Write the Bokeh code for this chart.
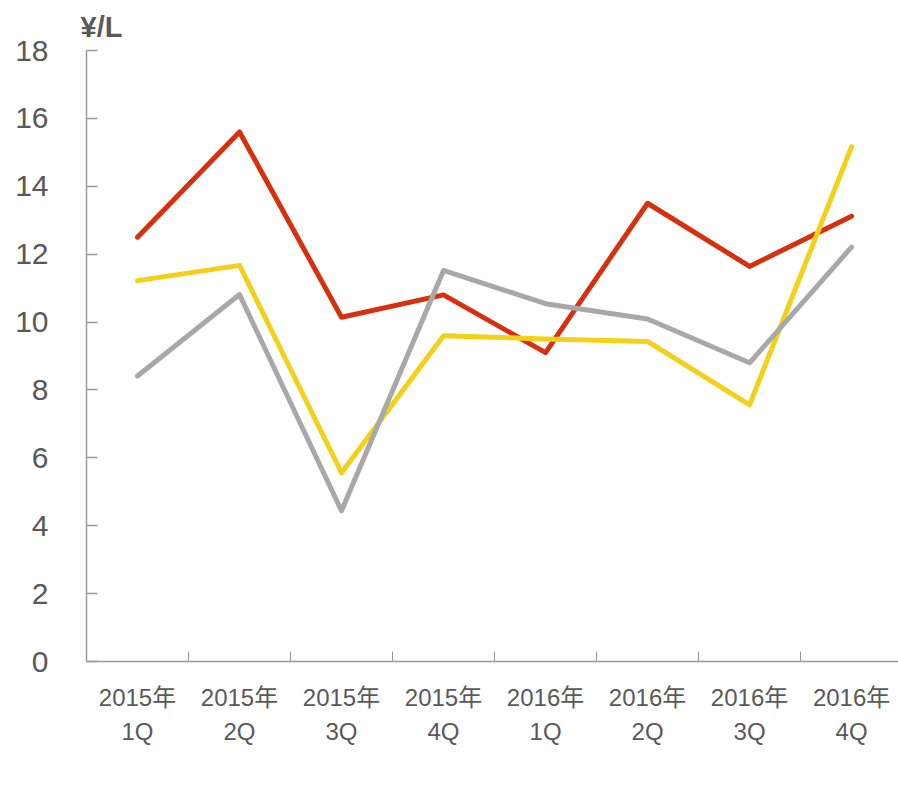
import numpy as np
from bokeh.plotting import figure
from bokeh.models import (Range1d, FixedTicker, Legend, LegendItem, Title, LinearAxis)
from bokeh.embed import file_html
from bokeh.resources import INLINE

# ---- data ----
years = ["2015年", "2015年", "2015年", "2015年", "2016年", "2016年", "2016年", "2016年"]
quarters = ["1Q", "2Q", "3Q", "4Q", "1Q", "2Q", "3Q", "4Q"]
gasoline = [12.5, 15.6, 10.14, 10.8, 9.1, 13.5, 11.64, 13.12]
kerosene = [11.22, 11.67, 5.56, 9.6, 9.5, 9.43, 7.56, 15.17]
diesel = [8.41, 10.81, 4.44, 11.52, 10.54, 10.09, 8.8, 12.21]
series_names = ["ガソリン", "灯油", "軽油"]
y_ticks = [0, 2, 4, 6, 8, 10, 12, 14, 16, 18]
unit_label = "¥/L"

colors = ["#D7300F", "#F5D018", "#A8A8A8"]
text_color = "#595959"
axis_color = "#9A9A9A"
FONT = "Liberation Sans, Noto Sans CJK JP"

n = len(quarters)
x_centers = list(np.arange(n) + 0.5)
x_bounds = list(np.arange(1, n))

p = figure(frame_width=812, frame_height=611, output_backend="svg",
           toolbar_location=None, x_range=Range1d(0, 7.96), y_range=Range1d(0, 18),
           min_border_left=86, min_border_top=50, min_border_right=0, min_border_bottom=0,
           x_axis_type=None, y_axis_type=None)
p.outline_line_color = None
p.xgrid.visible = False
p.ygrid.visible = False
p.background_fill_color = "white"
p.border_fill_color = "white"

# unit title
p.add_layout(Title(text=unit_label, align="left", offset=-6, standoff=15,
                   text_font=FONT, text_font_size="29px", text_font_style="bold",
                   text_color=text_color), "above")

# y axis
yax = LinearAxis(ticker=FixedTicker(ticks=y_ticks), axis_label=None)
yax.axis_line_color = axis_color
yax.axis_line_width = 1.5
yax.major_tick_line_color = axis_color
yax.major_tick_line_width = 1.5
yax.major_tick_in = 11
yax.major_tick_out = 0
yax.minor_tick_line_color = None
yax.major_label_standoff = 38
yax.major_label_text_font = FONT
yax.major_label_text_font_size = "30px"
yax.major_label_text_color = text_color
p.add_layout(yax, "left")

# x axis: line, boundary ticks and year labels
xax = LinearAxis(ticker=FixedTicker(ticks=x_centers, minor_ticks=x_bounds), axis_label=None)
xax.axis_line_color = axis_color
xax.axis_line_width = 1.5
xax.major_tick_line_color = None
xax.major_tick_in = 0
xax.major_tick_out = 0
xax.minor_tick_line_color = axis_color
xax.minor_tick_line_width = 1
xax.minor_tick_in = 10
xax.minor_tick_out = 0
xax.major_label_overrides = {float(xc): yr for xc, yr in zip(x_centers, years)}
xax.major_label_standoff = 22
xax.major_label_text_font = FONT
xax.major_label_text_font_size = "24px"
xax.major_label_text_color = text_color
p.add_layout(xax, "below")

# second row of x labels: quarters
qax = LinearAxis(ticker=FixedTicker(ticks=x_centers), axis_label=None)
qax.axis_line_color = None
qax.major_tick_line_color = None
qax.minor_tick_line_color = None
qax.major_tick_in = 0
qax.major_tick_out = 0
qax.major_label_overrides = {float(xc): q for xc, q in zip(x_centers, quarters)}
qax.major_label_standoff = 4
qax.major_label_text_font = "Liberation Sans"
qax.major_label_text_font_size = "24px"
qax.major_label_text_color = text_color
p.add_layout(qax, "below")

renderers = []
for vals, c in zip([gasoline, kerosene, diesel], colors):
    r = p.line(x_centers, vals, line_color=c, line_width=5, line_join="round", line_cap="round")
    renderers.append(r)

legend = Legend(items=[LegendItem(label=nm, renderers=[r]) for nm, r in zip(series_names, renderers)],
                orientation="horizontal", location="top_center")
legend.glyph_width = 37
legend.glyph_height = 20
legend.label_standoff = 3
legend.spacing = 80
legend.padding = 0
legend.margin = 6
legend.label_height = 20
legend.border_line_color = None
legend.background_fill_alpha = 0
legend.label_text_font = FONT
legend.label_text_font_size = "27px"
legend.label_text_color = text_color
p.add_layout(legend, "below")

open("out.html", "w").write(file_html(p, INLINE))
